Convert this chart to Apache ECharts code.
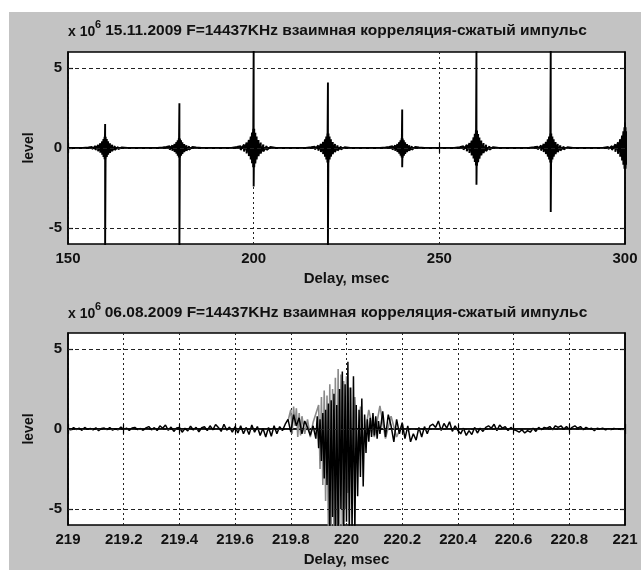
<!DOCTYPE html>
<html>
<head>
<meta charset="utf-8">
<script src="https://cdn.jsdelivr.net/npm/echarts@6/dist/echarts.min.js"></script>
<style>
html, body { margin: 0; padding: 0; background: #fff; }
#wrap { position: relative; width: 641px; height: 570px; background: #fff; }
#panel { position: absolute; left: 9px; top: 12px; right: 0; bottom: 0; background: #c3c3c3; }
#chart { position: absolute; left: 0; top: 0; width: 641px; height: 570px; }
</style>
</head>
<body>
<div id="wrap">
  <div id="panel"></div>
  <div id="chart"></div>
</div>
<script>
// titles
const upperTitle = '15.11.2009 F=14437KHz взаимная корреляция-сжатый импульс'
const lowerTitle = '06.08.2009 F=14437KHz взаимная корреляция-сжатый импульс'
const xName = 'Delay, msec'
const yName = 'level'

// axes
const upperX = [150, 300, 50] // min, max, step
const lowerX = [219, 221, 0.2]
const levelRange = [-6, 6]
const levelTicks = [-5, 0, 5]

// upper plot: compressed pulses every 20 ms
const pulseTimes = [160, 180, 200, 220, 240, 260, 280, 300]
const pulsePeaks = [1.5, 2.8, 6.3, 4.1, 2.4, 6.3, 6.3, 1.6]
const pulseTroughs = [-6.3, -6.3, -2.4, -6.3, -1.2, -2.3, -4.0, -1.0]
const pulseBlobs = [0.7, 0.6, 1.2, 0.9, 0.6, 1.1, 0.9, 1.3]
const blobOffsets = [-4.5, -3.5, -2.6, -1.9, -1.3, -0.8, -0.45, -0.15, 0.15, 0.45, 0.8, 1.3, 1.9, 2.6, 3.5, 4.5]
const blobShape = [0.05, 0.1, 0.18, 0.28, 0.42, 0.6, 0.8, 1, 1, 0.8, 0.6, 0.42, 0.28, 0.18, 0.1, 0.05]

// lower plot, black trace (samples)
const lowerA = { start: 219.0, step: 0.01, values: [
  0.02, -0.05, 0.08, -0.03, 0.05, -0.08, 0.1, -0.02, 0.04, -0.06,
  0.07, -0.1, 0.03, 0.06, -0.04, 0.09, -0.07, 0.02, -0.05, 0.12,
  -0.03, 0.05, -0.09, 0.06, 0.1, -0.04, 0.03, -0.08, 0.07, 0.15, -0.05,
  0.08, -0.1, 0.2, 0.05, 0.25, -0.08, 0.12, -0.15, 0.06, 0.1,
  -0.2, 0.05, -0.12, 0.18, -0.06, 0.1, -0.18, 0.08, 0.14, -0.1,
  0.2, -0.05, 0.28, 0.1, -0.15, 0.3, -0.08, 0.12, -0.2, 0.15,
  -0.25, 0.2, -0.3, 0.1, -0.35, 0.25, -0.2, 0.15, -0.4, 0.05,
  -0.5, 0.1, -0.45, 0.2, -0.3, 0.15, -0.1,
  0.3, 0.6, -0.2, 0.9, 0.2, 0.7, -0.3, 0.5, 0.1, -0.4, 0.2
] }
const lowerB = { start: 219.885, step: 0.005, values: [
  0.3, -0.6, 0.8, -1.2, 0.6, -2.0, 1.0, -3.1, 1.2, -3.5,
  1.6, -6.5, 1.8, -5.5, 2.2, -6.5, 1.5, -6.5, 2.5, -5.0,
  3.6, -6.5, 2.8,
  -5.8, 4.2, -6.5, 2.6, -6.5, 3.3, -6.5, 1.5, -4.2, 1.2,
  -3.0, 1.9, -3.6, 0.9, -1.5, 0.6, -0.8, 0.7, -0.5, 1.0,
  -0.4, 0.8, -0.6, 0.5, -0.3
] }
const lowerC = { start: 220.13, step: 0.01, values: [
  1.1, -0.5, 0.9, 0.2, -0.8, 0.6, -0.3, 0.4,
  -0.6, 0.2, -0.8, -0.3, -0.7, 0.1, -0.5, 0.15, -0.3, 0.2,
  0.3, 0.1, 0.5, -0.1, 0.35, 0.05, 0.45, -0.15, 0.2, -0.1,
  -0.3, 0.05, -0.4, -0.1, -0.35, 0.1, -0.25, 0.05, -0.15, 0.1,
  0.2, 0.05, 0.3, -0.1, 0.25, 0.05, 0.15, -0.1, 0.1, -0.05,
  -0.1, -0.2, -0.05, -0.25, -0.1, -0.2, 0.05, -0.15, 0.1, -0.05,
  0.1, 0.05, 0.15, -0.05, 0.2, 0.1, 0.2, 0.0, 0.15, -0.05,
  0.1, 0.2, 0.05, 0.15, -0.05, 0.1, 0.0, 0.05, -0.1, 0.05,
  0.0, 0.05, -0.05, 0.02, -0.03, 0.04, -0.02, 0.01, 0.0, 0.0
] }

// lower plot, gray trace
const lowerGray = [
  [219.79, 0.5], [219.8, 1.2], [219.805, -0.3], [219.81, 1.4], [219.815, 0.2], [219.82, 1.3],
  [219.825, -0.5], [219.83, 1.0], [219.835, -0.4], [219.84, 0.8], [219.85, -0.3], [219.86, 0.6],
  [219.87, -0.5], [219.88, 0.4], [219.9, 1.5], [219.905, -2.5], [219.91, 2.0], [219.915, -3.5],
  [219.92, 2.4], [219.925, -4.5], [219.93, 2.1], [219.935, -6.5], [219.94, 2.8], [219.945, -6.5],
  [219.95, 2.5], [219.955, -6.5], [219.96, 3.2], [219.965, -6.5], [219.97, 3.75], [219.975, -6.5],
  [219.98, 3.4], [219.985, -6.5], [219.99, 3.0], [219.995, -5], [220.0, 3.3], [220.005, -4],
  [220.01, 2.6], [220.02, -3], [220.03, 2.0], [220.04, -2], [220.05, 1.4], [220.06, -1],
  [220.08, 1.2], [220.1, -0.5], [220.12, 1.45], [220.14, -0.6], [220.16, 0.8], [220.18, -0.5],
  [220.2, 0.3]
]

function upperData() {
  const d = [[upperX[0], 0]]
  pulseTimes.forEach((t, k) => {
    d.push([t - 6, 0])
    blobOffsets.forEach((o, i) => {
      const a = blobShape[i] * pulseBlobs[k]
      if (o > 0 && blobOffsets[i - 1] < 0) {
        d.push([t, pulsePeaks[k]], [t, pulseTroughs[k]])
      }
      d.push([t + o, a], [t + o, -a])
    })
    d.push([t + 6, 0])
  })
  return d
}

function samples(seg) {
  return seg.values.map((v, i) => [seg.start + i * seg.step, v])
}

const font = '"Liberation Sans", Arial, sans-serif'
const labelStyle = { color: '#111', fontFamily: font, fontSize: 15, fontWeight: 'bold' }
const dotted = { color: '#222', width: 1, type: [2, 3] }

function xAxes(gi, r) {
  return [{
    gridIndex: gi, type: 'value', min: r[0], max: r[1], interval: r[2], position: 'bottom',
    axisLine: { show: true, lineStyle: { color: '#000', width: 1.5 } },
    axisTick: { inside: true, length: 5, lineStyle: { color: '#000', width: 1.2 } },
    axisLabel: Object.assign({ margin: 7, formatter: v => String(Math.round(v * 10) / 10) }, labelStyle),
    splitLine: { show: true, lineStyle: dotted },
    name: xName, nameLocation: 'middle', nameGap: 27,
    nameTextStyle: labelStyle
  }, {
    gridIndex: gi, type: 'value', min: r[0], max: r[1], interval: r[2], position: 'top',
    axisLine: { show: true, lineStyle: { color: '#000', width: 1.5 } },
    axisTick: { inside: true, length: 5, lineStyle: { color: '#000', width: 1.2 } },
    axisLabel: { show: false }, splitLine: { show: false }
  }]
}

function yAxes(gi) {
  return [{
    gridIndex: gi, type: 'value', min: levelRange[0], max: levelRange[1], position: 'left',
    axisLine: { show: true, lineStyle: { color: '#000', width: 1.5 } },
    axisTick: { inside: true, length: 5, customValues: levelTicks, lineStyle: { color: '#000', width: 1.2 } },
    axisLabel: Object.assign({ margin: 6, customValues: levelTicks }, labelStyle),
    splitLine: { show: false },
    name: yName, nameLocation: 'middle', nameGap: 32,
    nameTextStyle: Object.assign({}, labelStyle, { fontSize: 14 })
  }, {
    gridIndex: gi, type: 'value', min: levelRange[0], max: levelRange[1], position: 'right',
    axisLine: { show: true, lineStyle: { color: '#000', width: 1.5 } },
    axisTick: { inside: true, length: 5, customValues: levelTicks, lineStyle: { color: '#000', width: 1.2 } },
    axisLabel: { show: false }, splitLine: { show: false }
  }]
}

function gridLines(xi, yi) {
  return {
    type: 'line', xAxisIndex: xi, yAxisIndex: yi, data: [], z: 1, silent: true,
    markLine: {
      silent: true, symbol: 'none', label: { show: false },
      lineStyle: { color: '#222', width: 1, type: [4, 3] },
      data: levelTicks.map(v => ({ yAxis: v }))
    }
  }
}

function titleText(x, y, text) {
  return [{
    type: 'text', x: 68, y: y + 1,
    style: { text: 'x 10', fill: '#111', fontFamily: font, fontSize: 14, fontWeight: 'bold', textVerticalAlign: 'middle' }
  }, {
    type: 'text', x: 95, y: y - 6,
    style: { text: '6', fill: '#111', fontFamily: font, fontSize: 11, fontWeight: 'bold', textVerticalAlign: 'middle' }
  }, {
    type: 'text', x: x, y: y,
    style: { text: text, fill: '#111', fontFamily: font, fontSize: 15.5, fontWeight: 'bold', textAlign: 'center', textVerticalAlign: 'middle' }
  }]
}

const chart = echarts.init(document.getElementById('chart'))
chart.setOption({
  animation: false,
  backgroundColor: 'transparent',
  grid: [
    { left: 68, top: 52, width: 557, height: 192, show: true, backgroundColor: '#fff', borderColor: '#000', borderWidth: 1.5 },
    { left: 68, top: 333, width: 557, height: 192, show: true, backgroundColor: '#fff', borderColor: '#000', borderWidth: 1.5 }
  ],
  xAxis: xAxes(0, upperX).concat(xAxes(1, lowerX)),
  yAxis: yAxes(0).concat(yAxes(1)),
  graphic: titleText(346, 31, upperTitle).concat(titleText(346, 313, lowerTitle)),
  series: [
    gridLines(0, 0),
    {
      type: 'line', xAxisIndex: 0, yAxisIndex: 0, data: upperData(), z: 3,
      showSymbol: false, clip: true, lineStyle: { color: '#000', width: 1.9 }
    },
    gridLines(2, 2),
    {
      type: 'line', xAxisIndex: 2, yAxisIndex: 2, data: lowerGray, z: 2,
      showSymbol: false, clip: true, lineStyle: { color: '#8a8a8a', width: 1.6 }
    },
    {
      type: 'line', xAxisIndex: 2, yAxisIndex: 2, z: 3,
      data: samples(lowerA).concat(samples(lowerB), samples(lowerC)),
      showSymbol: false, clip: true, lineStyle: { color: '#000', width: 1.5 }
    }
  ]
})
</script>
</body>
</html>
